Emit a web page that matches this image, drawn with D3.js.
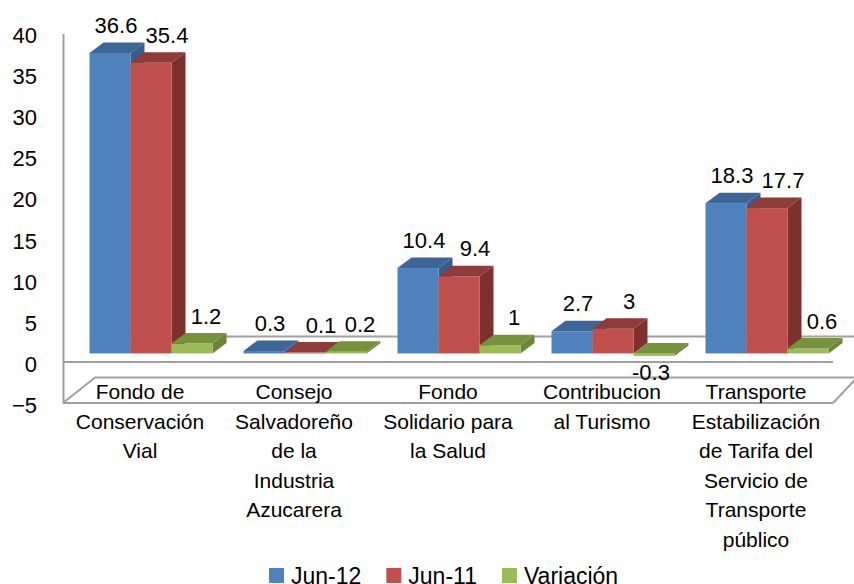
<!DOCTYPE html>
<html>
<head>
<meta charset="utf-8">
<script src="https://cdn.jsdelivr.net/npm/d3@7"></script>
<style>
  html, body { margin: 0; padding: 0; background: #fff; }
  svg { display: block; font-family: "Liberation Sans", Arial, sans-serif; }
</style>
</head>
<body>
<div id="chart"></div>
<script>
// ---------------- data ----------------
const categories = [
  ["Fondo de", "Conservación", "Vial"],
  ["Consejo", "Salvadoreño", "de la", "Industria", "Azucarera"],
  ["Fondo", "Solidario para", "la Salud"],
  ["Contribucion", "al Turismo"],
  ["Transporte", "Estabilización", "de Tarifa del", "Servicio de", "Transporte", "público"]
];
const seriesNames = ["Jun-12", "Jun-11", "Variación"];
const jun12 = [36.6, 0.3, 10.4, 2.7, 18.3];
const jun11 = [35.4, 0.1, 9.4, 3, 17.7];
const variacion = [1.2, 0.2, 1, -0.3, 0.6];
const yTicks = [-5, 0, 5, 10, 15, 20, 25, 30, 35, 40];

// colours: front, top, side
const colors = [
  { front: "#4F81BD", top: "#3D6596", side: "#385D8A" },
  { front: "#C0504D", top: "#8F3B39", side: "#7D302E" },
  { front: "#9BBB59", top: "#76923C", side: "#6A8535" }
];
const labelShift = [6, 16, 14];

// ---------------- setup ----------------
const width = 854, height = 584;
const svg = d3.select("#chart").append("svg")
  .attr("width", width).attr("height", height);

const left = 63, right = 833;
const x = d3.scaleBand().domain(d3.range(categories.length)).range([left, right]);
const xs = d3.scaleBand().domain(d3.range(3))
  .range([15.5, x.bandwidth() - 15.5]);
const y = d3.scaleLinear().domain([-5, 40]).range([403, 33.5]);

// 3d offsets
const floorDepthL = { dx: 32, dy: -25.5 };
const floorDepthR = { dx: 24, dy: -25.5 };
const barShift = { dx: 11, dy: -8.5 };
const barDepth = { dx: 14, dy: -10.5 };

const lineColor = "#a0a0a0";

// ---------------- floor / walls ----------------
const y0 = y(0), yMin = y(-5);
const floor = svg.append("g")
  .attr("fill", "none").attr("stroke", lineColor).attr("stroke-width", 2);
const segs = [
  [left + floorDepthL.dx, y0 + floorDepthL.dy, right + floorDepthR.dx, y0 + floorDepthR.dy],
  [left, y0, right, y0],
  [left, yMin, right, yMin],
  [left + floorDepthL.dx, yMin + floorDepthL.dy, right + floorDepthR.dx, yMin + floorDepthR.dy],
  [left, yMin, left + floorDepthL.dx, yMin + floorDepthL.dy],
  [right, yMin, right + floorDepthR.dx, yMin + floorDepthR.dy]
];
floor.selectAll("line").data(segs).join("line")
  .attr("x1", d => d[0]).attr("y1", d => d[1])
  .attr("x2", d => d[2]).attr("y2", d => d[3]);

// y axis
const yAxis = svg.append("g")
  .attr("transform", `translate(${left},0)`)
  .call(d3.axisLeft(y).tickValues(yTicks).tickSize(0).tickPadding(26).tickFormat(d3.format("d")));
yAxis.select(".domain").attr("stroke", lineColor).attr("stroke-width", 2);
yAxis.selectAll("text")
  .attr("font-size", 22).attr("fill", "#000")
  .attr("dy", "0.42em")
  .style("font-family", "Liberation Sans, Arial, sans-serif");

// ---------------- bars ----------------
const allSeries = [jun12, jun11, variacion];
const bars = [];
categories.forEach((c, i) => {
  allSeries.forEach((vals, s) => {
    bars.push({ cat: i, s: s, v: vals[i] });
  });
});

const base = y(0) + barShift.dy;
const barG = svg.append("g");
bars.forEach(d => {
  const x0 = x(d.cat) + xs(d.s) + barShift.dx;
  const x1 = x0 + xs.bandwidth();
  const yv = y(d.v) + barShift.dy;
  const yTop = Math.min(base, yv), yBot = Math.max(base, yv);
  const c = colors[d.s];
  const g = barG.append("g");
  // side
  g.append("path")
    .attr("d", `M${x1},${yBot}L${x1 + barDepth.dx},${yBot + barDepth.dy}L${x1 + barDepth.dx},${yTop + barDepth.dy}L${x1},${yTop}Z`)
    .attr("fill", c.side);
  // front
  g.append("rect")
    .attr("x", x0).attr("y", yTop)
    .attr("width", xs.bandwidth()).attr("height", Math.max(0.8, yBot - yTop))
    .attr("fill", c.front);
  // top
  g.append("path")
    .attr("d", `M${x0},${yTop}L${x1},${yTop}L${x1 + barDepth.dx},${yTop + barDepth.dy}L${x0 + barDepth.dx},${yTop + barDepth.dy}Z`)
    .attr("fill", c.top);
});

// data labels
svg.append("g").selectAll("text").data(bars).join("text")
  .attr("x", d => x(d.cat) + xs(d.s) + barShift.dx + xs.bandwidth() / 2 + (d.v < 0 ? -3 : labelShift[d.s]))
  .attr("y", d => d.v < 0 ? y(d.v) + barShift.dy + 24 : y(d.v) + barShift.dy - 20)
  .attr("text-anchor", "middle")
  .attr("font-size", 22)
  .attr("fill", "#000")
  .text(d => d.v);

// category labels
const catG = svg.append("g");
categories.forEach((lines, i) => {
  const t = catG.append("text")
    .attr("x", x(i) + x.bandwidth() / 2)
    .attr("y", 399)
    .attr("text-anchor", "middle")
    .attr("font-size", 21)
    .attr("fill", "#000");
  lines.forEach((ln, k) => {
    t.append("tspan")
      .attr("x", x(i) + x.bandwidth() / 2)
      .attr("dy", k === 0 ? 0 : 29.5)
      .text(ln);
  });
});

// ---------------- legend ----------------
const legend = svg.append("g");
const items = legend.selectAll("g").data(seriesNames).join("g");
items.append("rect")
  .attr("width", 15).attr("height", 15)
  .attr("y", 568)
  .attr("fill", (d, i) => colors[i].front);
items.append("text")
  .attr("y", 576)
  .attr("dy", "0.36em")
  .attr("font-size", 23)
  .attr("fill", "#000")
  .text(d => d);
let cursor = 269;
items.each(function () {
  const g = d3.select(this);
  g.attr("transform", `translate(${cursor},0)`);
  g.select("text").attr("x", 22);
  cursor += 22 + g.select("text").node().getComputedTextLength() + 25;
});
</script>
</body>
</html>
